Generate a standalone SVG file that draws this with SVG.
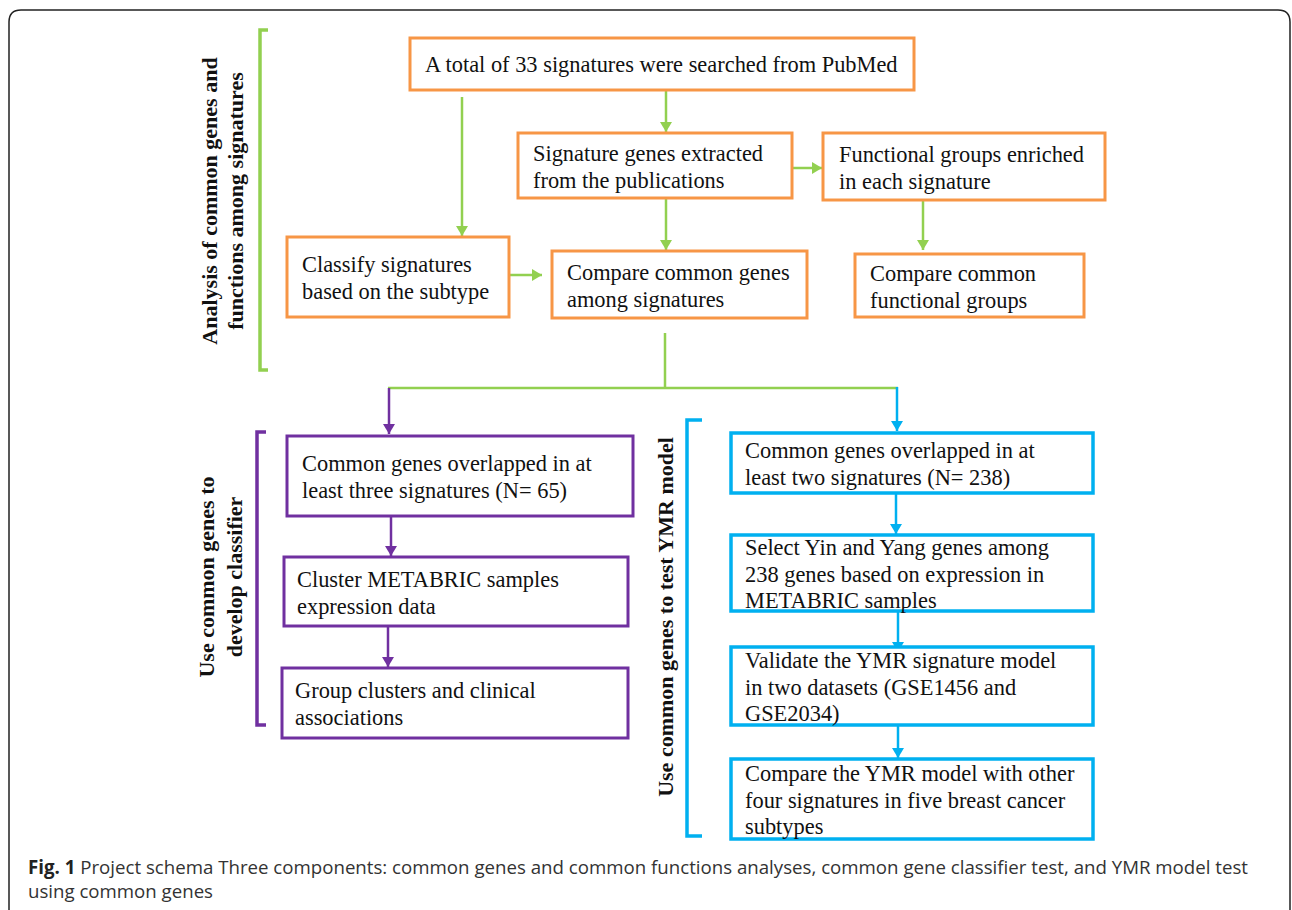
<svg xmlns="http://www.w3.org/2000/svg" width="1292" height="910" viewBox="0 0 1292 910">
<defs>
<style>
.t{font-family:"Liberation Serif","Times New Roman",serif;font-size:22.4px;fill:#111}
.lab{font-family:"Liberation Serif","Times New Roman",serif;font-size:22px;font-weight:bold;fill:#111;text-anchor:middle}
.bo{fill:#fff;stroke:#F79646;stroke-width:3}
.bp{fill:#fff;stroke:#7030A0;stroke-width:3}
.bc{fill:#fff;stroke:#00B0F0;stroke-width:3.5}
.cg{fill:none;stroke:#92D050;stroke-width:2.5}
.cp{fill:none;stroke:#7030A0;stroke-width:2.5}
.cc{fill:none;stroke:#00B0F0;stroke-width:2.5}
.cap{font-family:"Open Sans","Liberation Sans",sans-serif;font-size:19px;fill:#333}
</style>
<marker id="ag" markerUnits="userSpaceOnUse" markerWidth="12" markerHeight="12" refX="10" refY="6" orient="auto"><path d="M0,0 L10,6 L0,12 Z" fill="#92D050"/></marker>
<marker id="ap" markerUnits="userSpaceOnUse" markerWidth="12" markerHeight="12" refX="10" refY="6" orient="auto"><path d="M0,0 L10,6 L0,12 Z" fill="#7030A0"/></marker>
<marker id="ac" markerUnits="userSpaceOnUse" markerWidth="12" markerHeight="12" refX="10" refY="6" orient="auto"><path d="M0,0 L10,6 L0,12 Z" fill="#00B0F0"/></marker>
</defs>
<rect width="1292" height="910" fill="#fff"/>
<path d="M9,920 V22 Q9,10 21,10 H1278 Q1290,10 1290,22 V920" fill="none" stroke="#222" stroke-width="1.5"/>

<g id="brackets">
<path d="M268,30 H260 V370 H268" fill="none" stroke="#92D050" stroke-width="3.5"/>
<path d="M266,432 H257 V725 H266" fill="none" stroke="#7030A0" stroke-width="3.5"/>
<path d="M702,420 H687 V836 H702" fill="none" stroke="#00B0F0" stroke-width="3.5"/>
</g>
<g id="labels">
<text class="lab" transform="translate(217,201) rotate(-90)">Analysis of common genes and</text>
<text class="lab" transform="translate(243,201) rotate(-90)">functions among signatures</text>
<text class="lab" transform="translate(214,577) rotate(-90)">Use common genes to</text>
<text class="lab" transform="translate(242,577) rotate(-90)">develop classifier</text>
<text class="lab" transform="translate(673,617) rotate(-90)">Use common genes to test YMR model</text>
</g>

<g id="connectors">
<path class="cg" d="M462,97 V236" marker-end="url(#ag)"/>
<path class="cg" d="M666,90 V132" marker-end="url(#ag)"/>
<path class="cg" d="M792,168 H822" marker-end="url(#ag)"/>
<path class="cg" d="M666,198 V250" marker-end="url(#ag)"/>
<path class="cg" d="M509,275 H542" marker-end="url(#ag)"/>
<path class="cg" d="M923,200 V250" marker-end="url(#ag)"/>
<path class="cg" d="M665,333 V388 M388,388 H898"/>
<path class="cp" d="M389,388 V434" marker-end="url(#ap)"/>
<path class="cc" d="M897,387 V431" marker-end="url(#ac)"/>
<path class="cp" d="M391,516 V556" marker-end="url(#ap)"/>
<path class="cp" d="M388,626 V667" marker-end="url(#ap)"/>
<path class="cc" d="M896,493 V534" marker-end="url(#ac)"/>
<path class="cc" d="M898,611 V652" marker-end="url(#ac)"/>
<path class="cc" d="M898,718 V758" marker-end="url(#ac)"/>
</g>

<g id="n1"><rect class="bo" x="410" y="38" width="504" height="52"/>
<text class="t" x="425" y="72">A total of 33 signatures were searched from PubMed</text></g>
<g id="n2"><rect class="bo" x="518" y="133" width="274" height="65"/>
<text class="t" x="533" y="161">Signature genes extracted</text><text class="t" x="533" y="188">from the publications</text></g>
<g id="n3"><rect class="bo" x="823" y="133" width="282" height="67"/>
<text class="t" x="839" y="162">Functional groups enriched</text><text class="t" x="839" y="189">in each signature</text></g>
<g id="n4"><rect class="bo" x="287" y="237" width="222" height="80"/>
<text class="t" x="302" y="272">Classify signatures</text><text class="t" x="302" y="299">based on the subtype</text></g>
<g id="n5"><rect class="bo" x="552" y="251" width="255" height="67"/>
<text class="t" x="567" y="280">Compare common genes</text><text class="t" x="567" y="307">among signatures</text></g>
<g id="n6"><rect class="bo" x="855" y="254" width="229" height="63"/>
<text class="t" x="870" y="281">Compare common</text><text class="t" x="870" y="308">functional groups</text></g>

<g id="p1"><rect class="bp" x="287" y="436" width="346" height="80"/>
<text class="t" x="302" y="471">Common genes overlapped in at</text><text class="t" x="302" y="498">least three signatures (N= 65)</text></g>
<g id="p2"><rect class="bp" x="284" y="557" width="344" height="69"/>
<text class="t" x="297" y="587">Cluster METABRIC samples</text><text class="t" x="297" y="614">expression data</text></g>
<g id="p3"><rect class="bp" x="282" y="668" width="346" height="70"/>
<text class="t" x="295" y="698">Group clusters and clinical</text><text class="t" x="295" y="725">associations</text></g>

<g id="c1"><rect class="bc" x="731" y="433" width="362" height="60"/>
<text class="t" x="745" y="458">Common genes overlapped in at</text><text class="t" x="745" y="485">least two signatures (N= 238)</text></g>
<g id="c2"><rect class="bc" x="731" y="535" width="362" height="76"/>
<text class="t" x="745" y="555">Select Yin and Yang genes among</text><text class="t" x="745" y="582">238 genes based on expression in</text><text class="t" x="745" y="608">METABRIC samples</text></g>
<g id="c3"><rect class="bc" x="731" y="647" width="362" height="78"/>
<text class="t" x="745" y="668">Validate the YMR signature model</text><text class="t" x="745" y="695">in two datasets (GSE1456 and</text><text class="t" x="745" y="721">GSE2034)</text></g>
<g id="c4"><rect class="bc" x="731" y="759" width="362" height="80"/>
<text class="t" x="745" y="781">Compare the YMR model with other</text><text class="t" x="745" y="808">four signatures in five breast cancer</text><text class="t" x="745" y="834">subtypes</text></g>

<g id="caption">
<text class="cap" x="28" y="874" textLength="1220" lengthAdjust="spacingAndGlyphs"><tspan font-weight="bold" fill="#222">Fig. 1</tspan> Project schema Three components: common genes and common functions analyses, common gene classifier test, and YMR model test</text>
<text class="cap" x="28" y="898" textLength="185" lengthAdjust="spacingAndGlyphs">using common genes</text>
</g>
</svg>
